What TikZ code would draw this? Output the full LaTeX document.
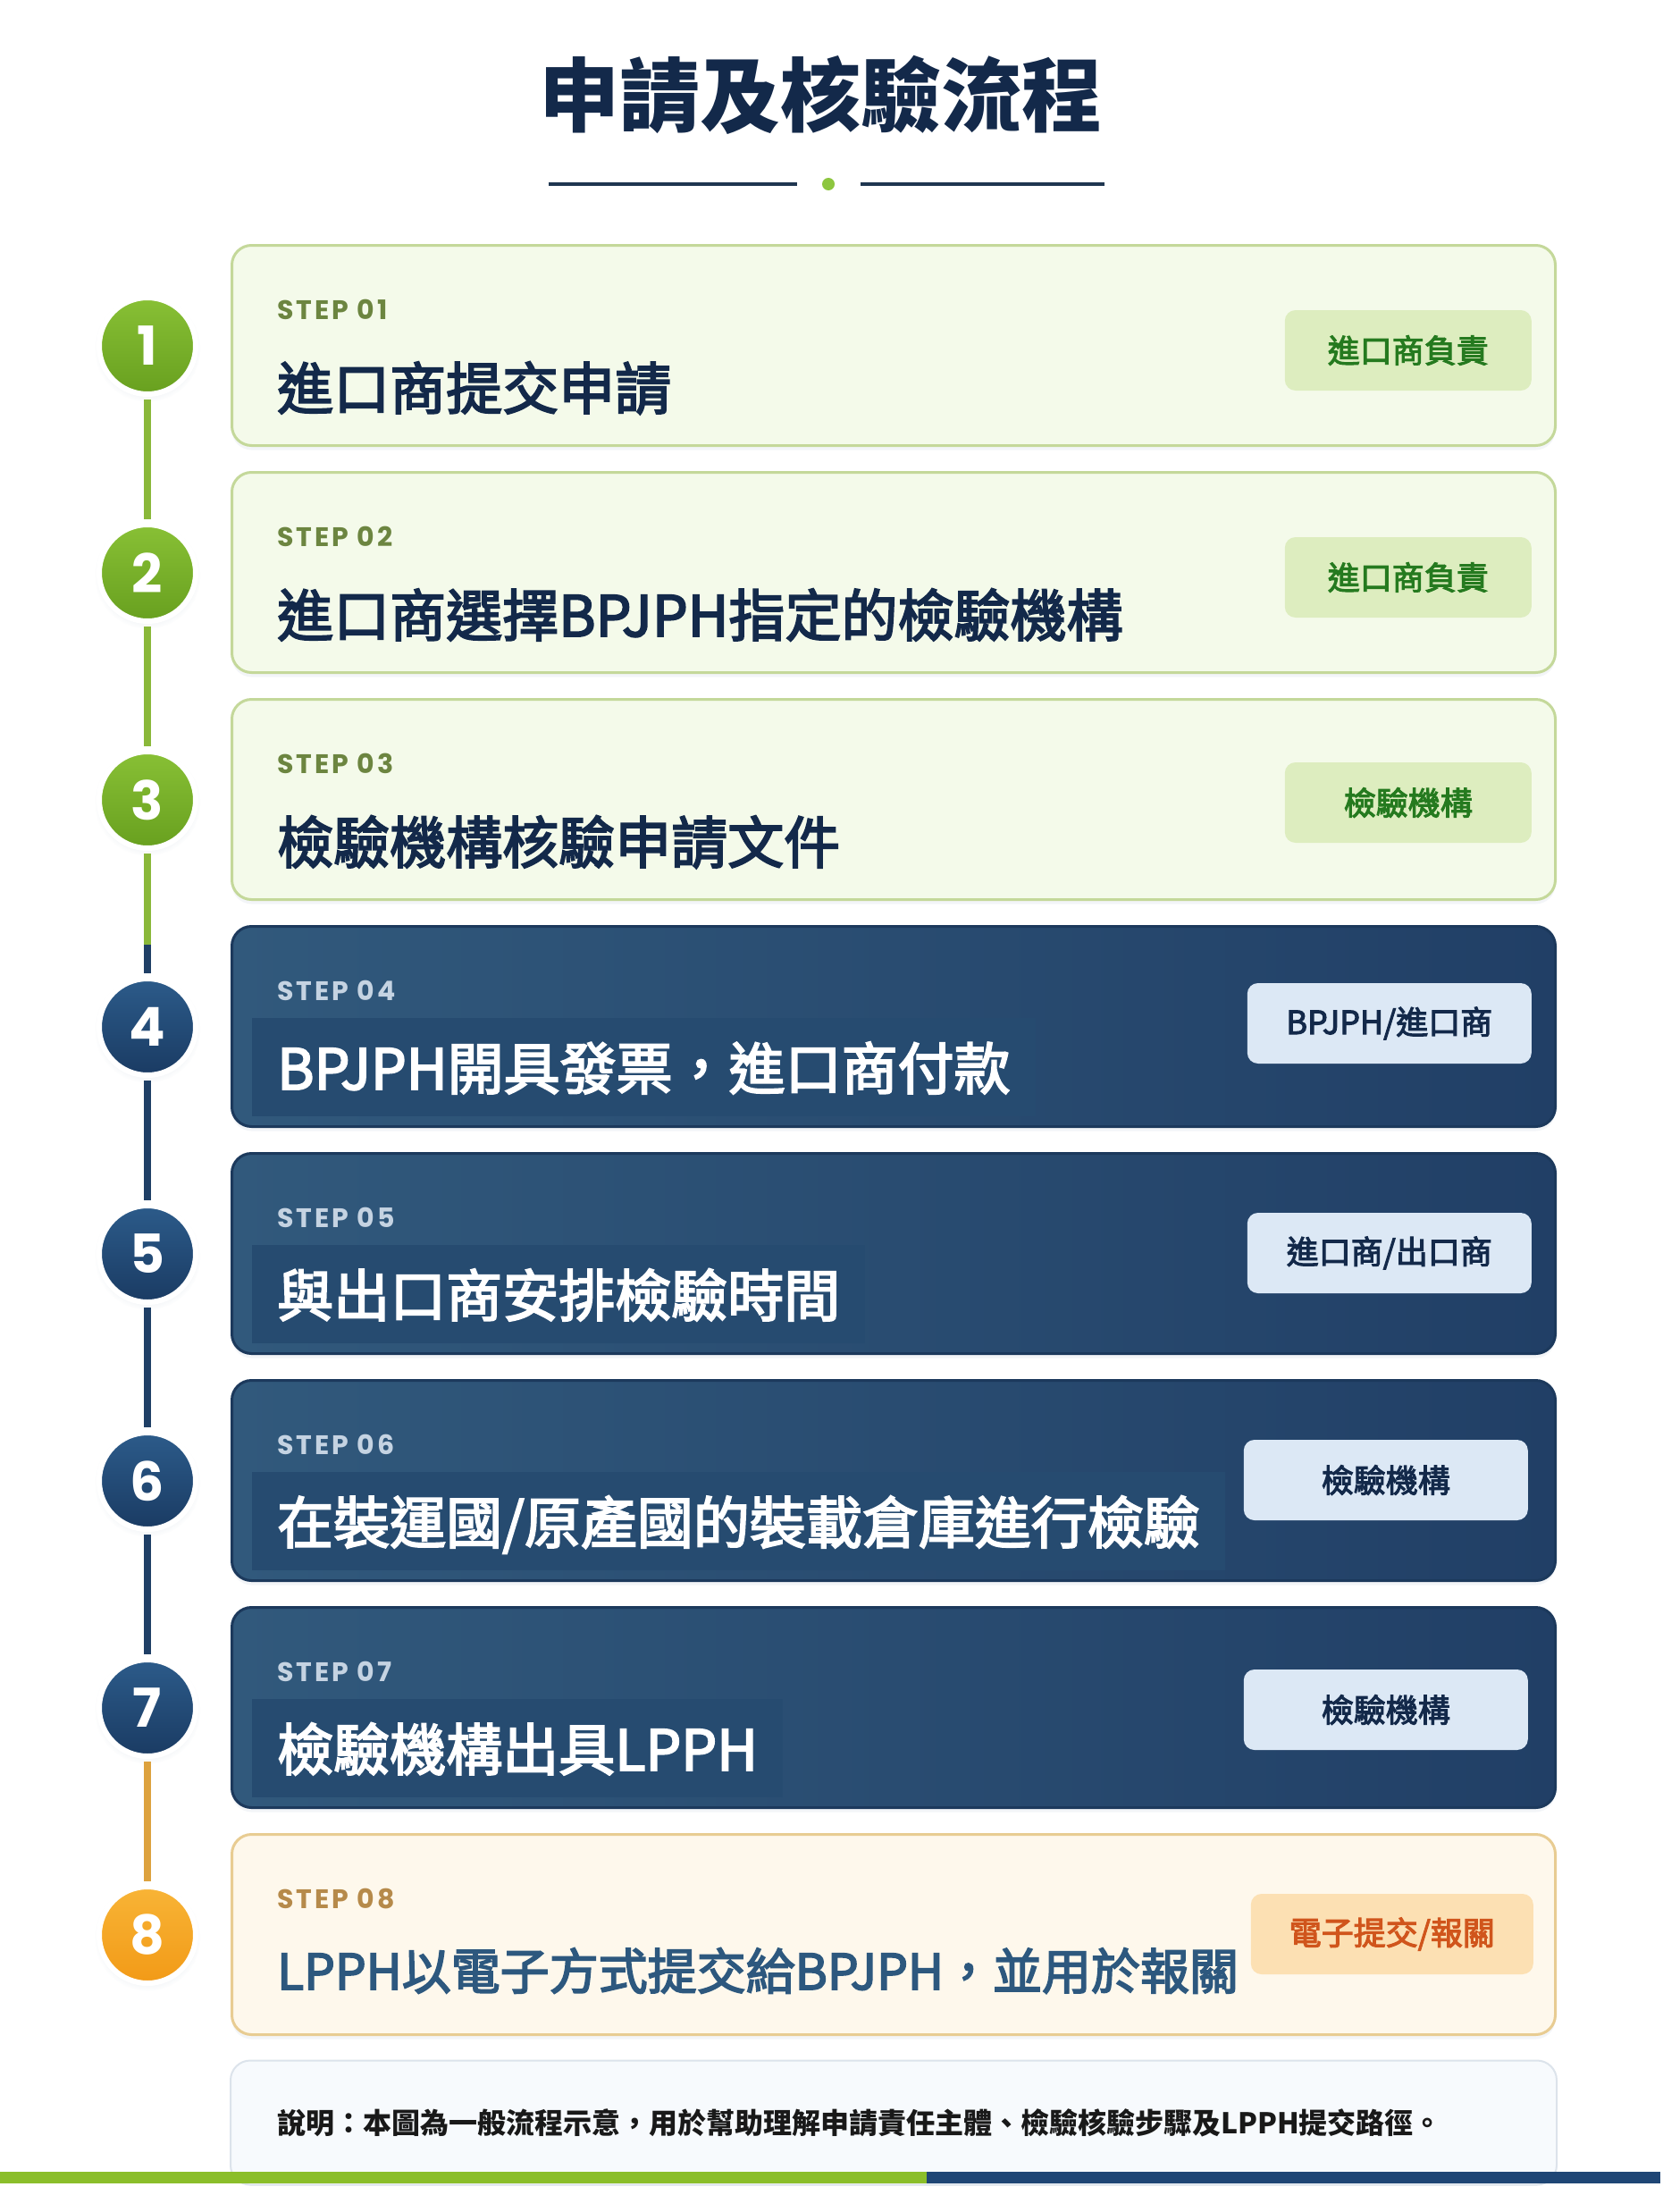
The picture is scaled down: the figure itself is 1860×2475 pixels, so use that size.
\documentclass[tikz,border=0pt]{standalone}
\usepackage{fontspec}
\setmainfont{Noto Sans CJK TC}
\newfontfamily\medcjk[FakeBold=3]{Noto Sans CJK TC}
\newfontfamily\stepsans[LetterSpace=10]{Poppins}
\newfontfamily\numsans{Poppins}
\usetikzlibrary{shadows}

\definecolor{titlenavy}{HTML}{13294A}
\definecolor{rulenavy}{HTML}{1F3650}
\definecolor{dotgreen}{HTML}{8DC63F}
\definecolor{lightfill}{HTML}{F4FAEA}
\definecolor{lightedge}{HTML}{C4D89A}
\definecolor{lighttag}{HTML}{DDEDBF}
\definecolor{tagtextgreen}{HTML}{257A1F}
\definecolor{olivelabel}{HTML}{6C8540}
\definecolor{darkleft}{HTML}{31597C}
\definecolor{darkright}{HTML}{213F66}
\definecolor{darkedge}{HTML}{1C395C}
\definecolor{darkband}{HTML}{264B70}
\definecolor{darklabel}{HTML}{C5D3E2}
\definecolor{darktag}{HTML}{DCE8F5}
\definecolor{goldfill}{HTML}{FEF8EC}
\definecolor{goldedge}{HTML}{E8CC92}
\definecolor{goldlabel}{HTML}{B68A4A}
\definecolor{goldtext}{HTML}{2D587E}
\definecolor{goldtag}{HTML}{FCE0B3}
\definecolor{goldtagtext}{HTML}{D0551C}
\definecolor{greentop}{HTML}{88C035}
\definecolor{greenbot}{HTML}{68A01F}
\definecolor{navytop}{HTML}{2C5B8A}
\definecolor{navybot}{HTML}{1A3B63}
\definecolor{orangetop}{HTML}{F8B436}
\definecolor{orangebot}{HTML}{F29A17}
\definecolor{greenline}{HTML}{8AB83A}
\definecolor{navyline}{HTML}{1F3F66}
\definecolor{orangeline}{HTML}{DDA23E}
\definecolor{notefill}{HTML}{F7FAFD}
\definecolor{noteedge}{HTML}{DCE3EB}
\definecolor{bargreen}{HTML}{8BBE2A}
\definecolor{barnavy}{HTML}{1F4675}
\definecolor{shadowc}{HTML}{9FB3C8}

\tikzset{
  stepbox/.style={rounded corners=22pt, minimum width=1481pt, minimum height=224pt, line width=3pt,
    drop shadow={shadow xshift=0pt, shadow yshift=-5pt, opacity=0.12, fill=shadowc}},
  lightbox/.style={stepbox, draw=lightedge, fill=lightfill},
  darkbox/.style={stepbox, draw=darkedge, left color=darkleft, right color=darkright},
  goldbox/.style={stepbox, draw=goldedge, fill=goldfill},
  num/.style={circle, minimum size=108pt, draw=white, line width=6pt, text=white,
    font=\numsans\bfseries\fontsize{60}{62}\selectfont,
    circular drop shadow={shadow xshift=0pt, shadow yshift=-3pt, opacity=0.12, fill=shadowc}},
  greennum/.style={num, top color=greentop, bottom color=greenbot},
  navynum/.style={num, top color=navytop, bottom color=navybot},
  orangenum/.style={num, top color=orangetop, bottom color=orangebot},
  steplabel/.style={anchor=base west, inner sep=0pt, font=\stepsans\bfseries\fontsize{30}{32}\selectfont},
  maintext/.style={anchor=base west, inner xsep=28pt, inner ysep=0pt, text height=80pt, text depth=30pt,
    font=\medcjk\fontsize{63}{70}\selectfont},
  tag/.style={anchor=east, rounded corners=12pt, minimum height=90pt, inner sep=0pt,
    font=\medcjk\fontsize{36}{40}\selectfont},
  lighttagbox/.style={tag, fill=lighttag, text=tagtextgreen, minimum width=276pt},
  darktagbox/.style={tag, fill=darktag, text=titlenavy, minimum width=318pt},
  goldtagbox/.style={tag, fill=goldtag, text=goldtagtext, minimum width=316pt},
  link/.style={line width=8pt, shorten <=3pt, shorten >=3pt}
}

\begin{document}
\begin{tikzpicture}[x=1pt, y=-1pt]
  \useasboundingbox (0,0) rectangle (1860,2475);
  \fill[white] (0,0) rectangle (1860,2475);

  \node (title) at (918,106) [text=titlenavy, font=\bfseries\fontsize{90}{96}\selectfont] {申請及核驗流程};
  \draw[rulenavy, line width=4pt] (614,206) -- (892,206);
  \draw[rulenavy, line width=4pt] (963,206) -- (1236,206);
  \fill[dotgreen] (927,206) circle (7);

  \node (box1) at (1000,386.5) [lightbox] {};
  \node (box2) at (1000,640.5) [lightbox] {};
  \node (box3) at (1000,894.5) [lightbox] {};
  \node (box4) at (1000,1148.5) [darkbox] {};
  \node (box5) at (1000,1402.5) [darkbox] {};
  \node (box6) at (1000,1656.5) [darkbox] {};
  \node (box7) at (1000,1910.5) [darkbox] {};
  \node (box8) at (1000,2164.5) [goldbox] {};

  \node (c1) at (165,387) [greennum] {1};
  \node (c2) at (165,641) [greennum] {2};
  \node (c3) at (165,895) [greennum] {3};
  \node (c4) at (165,1149) [navynum] {4};
  \node (c5) at (165,1403) [navynum] {5};
  \node (c6) at (165,1657) [navynum] {6};
  \node (c7) at (165,1911) [navynum] {7};
  \node (c8) at (165,2165) [orangenum] {8};
  \coordinate (turn) at (165,1057);

  \draw[link, greenline] (c1) -- (c2);
  \draw[link, greenline] (c2) -- (c3);
  \draw[link, greenline, shorten >=0pt] (c3) -- (turn);
  \draw[link, navyline, shorten <=0pt] (turn) -- (c4);
  \draw[link, navyline] (c4) -- (c5);
  \draw[link, navyline] (c5) -- (c6);
  \draw[link, navyline] (c6) -- (c7);
  \draw[link, orangeline] (c7) -- (c8);

  \node (s1) at (310,357) [steplabel, text=olivelabel] {STEP 01};
  \node (s2) at (310,611) [steplabel, text=olivelabel] {STEP 02};
  \node (s3) at (310,865) [steplabel, text=olivelabel] {STEP 03};
  \node (s4) at (310,1119) [steplabel, text=darklabel] {STEP 04};
  \node (s5) at (310,1373) [steplabel, text=darklabel] {STEP 05};
  \node (s6) at (310,1627) [steplabel, text=darklabel] {STEP 06};
  \node (s7) at (310,1881) [steplabel, text=darklabel] {STEP 07};
  \node (s8) at (310,2135) [steplabel, text=goldlabel] {STEP 08};

  \node (t1) at (282,458) [maintext, text=titlenavy] {進口商提交申請};
  \node (t2) at (282,712) [maintext, text=titlenavy] {進口商選擇BPJPH指定的檢驗機構};
  \node (t3) at (282,966) [maintext, text=titlenavy] {檢驗機構核驗申請文件};
  \node (t4) at (282,1219) [maintext, fill=darkband, text=white] {BPJPH開具發票，進口商付款};
  \node (t5) at (282,1473) [maintext, fill=darkband, text=white] {與出口商安排檢驗時間};
  \node (t6) at (282,1727) [maintext, fill=darkband, text=white] {在裝運國/原產國的裝載倉庫進行檢驗};
  \node (t7) at (282,1981) [maintext, fill=darkband, text=white] {檢驗機構出具LPPH};
  \node (t8) at (282,2226) [maintext, text=goldtext, font=\medcjk\fontsize{55}{60}\selectfont] {LPPH以電子方式提交給BPJPH，並用於報關};

  \node (tag1) at (1714,392) [lighttagbox] {進口商負責};
  \node (tag2) at (1714,646) [lighttagbox] {進口商負責};
  \node (tag3) at (1714,898) [lighttagbox] {檢驗機構};
  \node (tag4) at (1714,1145) [darktagbox] {BPJPH/進口商};
  \node (tag5) at (1714,1402) [darktagbox] {進口商/出口商};
  \node (tag6) at (1710,1656) [darktagbox] {檢驗機構};
  \node (tag7) at (1710,1913) [darktagbox] {檢驗機構};
  \node (tag8) at (1716,2164) [goldtagbox] {電子提交/報關};

  \node (note) at (1000,2375) [rounded corners=22pt, minimum width=1484pt, minimum height=139pt, line width=2pt,
    draw=noteedge, fill=notefill, inner xsep=52pt, text width=1380pt, align=left, text=black!90,
    font=\bfseries\fontsize{32}{36}\selectfont] {說明：本圖為一般流程示意，用於幫助理解申請責任主體、檢驗核驗步驟及LPPH提交路徑。};

  \fill[bargreen] (0,2430) rectangle (1037,2443);
  \fill[barnavy] (1037,2430) rectangle (1858,2443);
\end{tikzpicture}
\end{document}
